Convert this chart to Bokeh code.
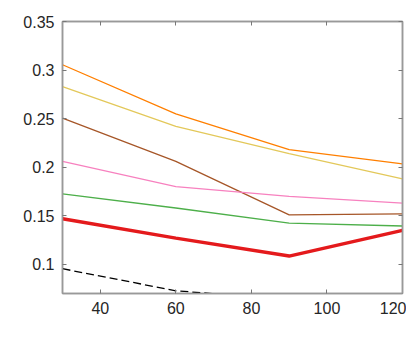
from bokeh.plotting import figure
from bokeh.models import LinearAxis, FixedTicker, Range1d, CustomJSTickFormatter
from bokeh.embed import file_html
from bokeh.resources import INLINE

x = [30, 60, 90, 120]
s_orange = [0.3055, 0.255, 0.218, 0.2035]
s_yellow = [0.283, 0.242, 0.214, 0.188]
s_brown = [0.2505, 0.206, 0.151, 0.152]
s_pink = [0.206, 0.180, 0.170, 0.163]
s_green = [0.1725, 0.158, 0.1425, 0.1395]
s_red = [0.147, 0.127, 0.1085, 0.135]
s_black = [0.0955, 0.0728, 0.064, 0.060]

x_ticks = [40, 60, 80, 100, 120]
y_ticks = [0.1, 0.15, 0.2, 0.25, 0.3, 0.35]

p = figure(frame_width=340, frame_height=272, output_backend="svg",
           toolbar_location=None, x_range=Range1d(30, 120), y_range=Range1d(0.07, 0.35),
           min_border_left=62, min_border_top=21, min_border_right=4, min_border_bottom=40)
p.background_fill_color = "white"
p.border_fill_color = "white"
p.outline_line_color = "#999999"
p.outline_line_width = 1.5
p.xgrid.visible = False
p.ygrid.visible = False

font = "Liberation Sans"
for ax, tk in ((p.xaxis[0], x_ticks), (p.yaxis[0], y_ticks)):
    ax.ticker = FixedTicker(ticks=tk)
    ax.major_tick_in = 4
    ax.major_tick_out = 0
    ax.minor_tick_line_color = None
    ax.axis_line_color = "#999999"
    ax.axis_line_width = 1.5
    ax.major_tick_line_color = "#777777"
    ax.major_label_text_font = font
    ax.major_label_text_font_size = "16px"
    ax.major_label_text_color = "#262626"
    ax.major_label_standoff = 8
p.yaxis[0].major_label_overrides = {0.3: "0.3", 0.2: "0.2", 0.1: "0.1"}

for side, tk in (("above", x_ticks), ("right", y_ticks)):
    a = LinearAxis(ticker=FixedTicker(ticks=tk), formatter=CustomJSTickFormatter(code="return ''"))
    a.major_tick_in = 4
    a.major_tick_out = 0
    a.minor_tick_line_color = None
    a.axis_line_color = "#999999"
    a.axis_line_width = 1.5
    a.major_tick_line_color = "#777777"
    a.major_label_standoff = 0
    p.add_layout(a, side)

p.line(x, s_orange, line_color="#ff7f00", line_width=1.3)
p.line(x, s_yellow, line_color="#e3c85a", line_width=1.3)
p.line(x, s_brown, line_color="#a65628", line_width=1.3)
p.line(x, s_pink, line_color="#f781bf", line_width=1.3)
p.line(x, s_green, line_color="#4daf4a", line_width=1.3)
p.line(x, s_red, line_color="#e41a1c", line_width=3.5)
p.line(x, s_black, line_color="black", line_width=1.3, line_dash="8 4")

open("out.html", "w").write(file_html(p, INLINE))
